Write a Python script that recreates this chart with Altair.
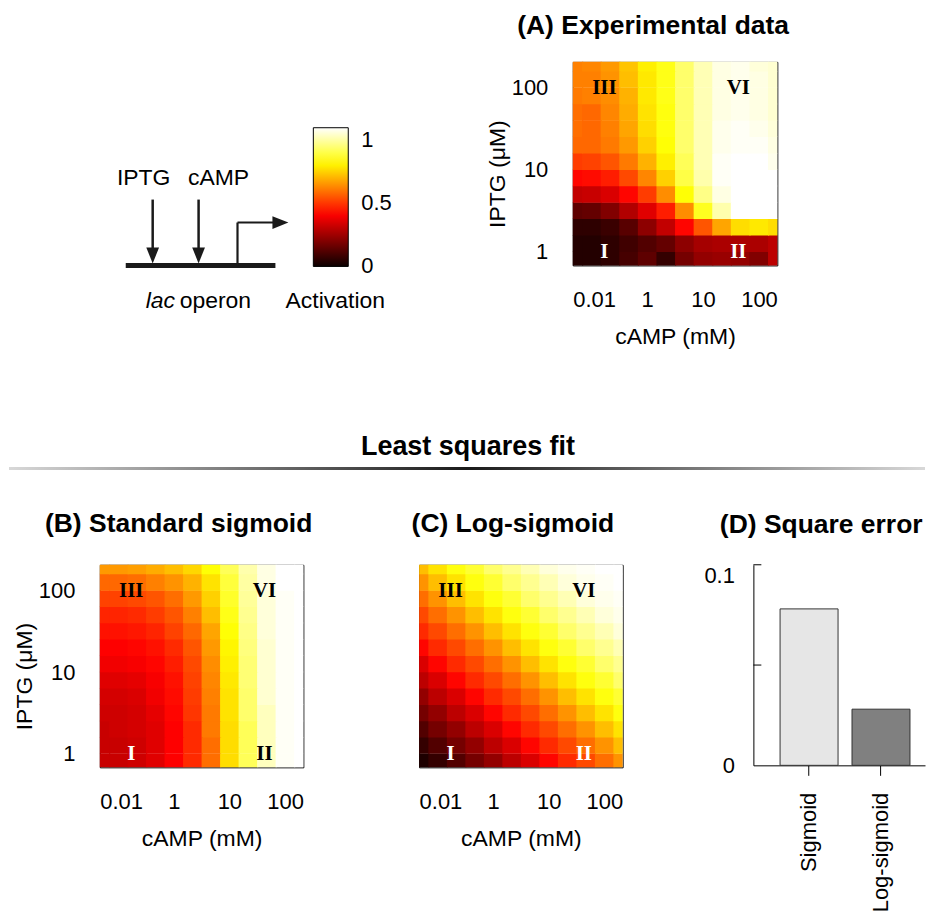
import altair as alt
import pandas as pd

# ---------------- data ----------------
camp_index = list(range(12))                 # cAMP grid columns (index axis)
camp_tick_index = [0, 4, 7, 11]
camp_tick_label = ["0.01", "1", "10", "100"]
iptg_log_rows = [-0.1, 0.1, 0.3, 0.5, 0.7, 0.9, 1.1, 1.3, 1.5, 1.7, 1.9, 2.1, 2.3]
iptg_ticks = [1, 10, 100]
iptg_domain = [0.684, 207.5]
colorbar_ticks = [0.001, 0.5, 1]

# activation grids, rows bottom (low IPTG) -> top, columns low -> high cAMP
exp_data = [
    [0.04, 0.04, 0.06, 0.10, 0.14, 0.07, 0.18, 0.23, 0.24, 0.23, 0.20, 0.30],
    [0.04, 0.04, 0.06, 0.09, 0.12, 0.15, 0.22, 0.26, 0.27, 0.27, 0.27, 0.30],
    [0.06, 0.06, 0.08, 0.13, 0.22, 0.31, 0.42, 0.55, 0.68, 0.77, 0.79, 0.77],
    [0.14, 0.15, 0.20, 0.28, 0.36, 0.46, 0.64, 0.86, 1.01, 1.10, 1.10, 1.10],
    [0.31, 0.32, 0.35, 0.42, 0.51, 0.64, 0.83, 0.97, 1.07, 1.10, 1.10, 1.10],
    [0.42, 0.43, 0.46, 0.53, 0.63, 0.75, 0.90, 1.01, 1.09, 1.10, 1.10, 1.10],
    [0.51, 0.52, 0.55, 0.61, 0.70, 0.80, 0.92, 1.02, 1.09, 1.10, 1.10, 1.08],
    [0.58, 0.58, 0.61, 0.66, 0.75, 0.83, 0.94, 1.02, 1.08, 1.09, 1.09, 1.07],
    [0.59, 0.58, 0.62, 0.68, 0.77, 0.84, 0.94, 1.02, 1.08, 1.09, 1.08, 1.06],
    [0.59, 0.58, 0.63, 0.69, 0.78, 0.84, 0.94, 1.02, 1.07, 1.08, 1.07, 1.05],
    [0.61, 0.62, 0.64, 0.70, 0.79, 0.85, 0.94, 1.02, 1.07, 1.08, 1.07, 1.05],
    [0.62, 0.62, 0.65, 0.72, 0.79, 0.85, 0.94, 1.02, 1.07, 1.08, 1.07, 1.05],
    [0.62, 0.63, 0.66, 0.73, 0.80, 0.85, 0.94, 1.02, 1.07, 1.08, 1.06, 1.05],
]
sigmoid_data = [
    [0.32, 0.32, 0.33, 0.36, 0.41, 0.48, 0.59, 0.77, 0.92, 1.03, 1.09, 1.10],
    [0.32, 0.32, 0.33, 0.36, 0.41, 0.48, 0.59, 0.77, 0.92, 1.03, 1.09, 1.10],
    [0.32, 0.33, 0.34, 0.36, 0.41, 0.48, 0.61, 0.77, 0.92, 1.03, 1.09, 1.10],
    [0.33, 0.33, 0.34, 0.37, 0.42, 0.50, 0.61, 0.78, 0.94, 1.03, 1.09, 1.10],
    [0.34, 0.34, 0.35, 0.39, 0.43, 0.51, 0.62, 0.78, 0.94, 1.05, 1.09, 1.10],
    [0.36, 0.36, 0.37, 0.40, 0.44, 0.52, 0.63, 0.79, 0.95, 1.05, 1.09, 1.10],
    [0.39, 0.39, 0.40, 0.42, 0.46, 0.53, 0.64, 0.80, 0.95, 1.05, 1.09, 1.10],
    [0.41, 0.41, 0.42, 0.44, 0.48, 0.55, 0.66, 0.81, 0.96, 1.05, 1.09, 1.10],
    [0.44, 0.44, 0.45, 0.47, 0.52, 0.58, 0.68, 0.83, 0.97, 1.06, 1.09, 1.10],
    [0.47, 0.47, 0.48, 0.51, 0.55, 0.62, 0.72, 0.85, 0.98, 1.06, 1.09, 1.10],
    [0.52, 0.52, 0.53, 0.55, 0.59, 0.66, 0.75, 0.87, 0.99, 1.06, 1.09, 1.10],
    [0.58, 0.58, 0.59, 0.62, 0.65, 0.70, 0.78, 0.89, 1.00, 1.07, 1.10, 1.10],
    [0.66, 0.66, 0.67, 0.69, 0.72, 0.76, 0.83, 0.92, 1.01, 1.07, 1.10, 1.10],
]
logsig_data = [
    [0.03, 0.07, 0.12, 0.18, 0.23, 0.30, 0.35, 0.42, 0.48, 0.53, 0.59, 0.65],
    [0.07, 0.12, 0.18, 0.23, 0.30, 0.35, 0.42, 0.48, 0.53, 0.59, 0.65, 0.72],
    [0.12, 0.18, 0.23, 0.30, 0.35, 0.42, 0.48, 0.53, 0.59, 0.65, 0.72, 0.78],
    [0.18, 0.23, 0.30, 0.35, 0.42, 0.48, 0.53, 0.59, 0.65, 0.72, 0.78, 0.84],
    [0.23, 0.30, 0.35, 0.42, 0.48, 0.53, 0.59, 0.65, 0.72, 0.78, 0.84, 0.88],
    [0.30, 0.35, 0.42, 0.48, 0.53, 0.59, 0.65, 0.72, 0.78, 0.84, 0.88, 0.94],
    [0.35, 0.42, 0.48, 0.53, 0.59, 0.65, 0.72, 0.78, 0.84, 0.88, 0.94, 0.98],
    [0.42, 0.48, 0.53, 0.59, 0.65, 0.72, 0.78, 0.84, 0.88, 0.94, 0.98, 1.02],
    [0.48, 0.53, 0.59, 0.65, 0.72, 0.78, 0.84, 0.88, 0.94, 0.98, 1.02, 1.06],
    [0.53, 0.59, 0.65, 0.72, 0.78, 0.84, 0.88, 0.94, 0.98, 1.02, 1.06, 1.08],
    [0.59, 0.65, 0.72, 0.78, 0.84, 0.88, 0.94, 0.98, 1.02, 1.06, 1.08, 1.09],
    [0.65, 0.72, 0.78, 0.84, 0.88, 0.94, 0.98, 1.02, 1.06, 1.08, 1.09, 1.10],
    [0.72, 0.78, 0.84, 0.88, 0.94, 0.98, 1.02, 1.06, 1.08, 1.09, 1.10, 1.10],
]

numerals = ["III", "VI", "I", "II"]
numeral_camp = [1.7, 8.9, 1.7, 8.9]
numeral_iptg = [100, 100, 1, 1]
numeral_color_a = ["black", "black", "white", "white"]
numeral_color_b = ["black", "black", "white", "black"]
numeral_color_c = ["black", "black", "white", "white"]

models = ["Sigmoid", "Log-sigmoid"]
square_error = [0.078, 0.028]
bar_fill = ["#e6e6e6", "#808080"]
error_ticks = [0.05, 0.1]

# schematic (diagram units, 1 unit = 1 px)
seg_x1 = [53, 99, 26, 138, 138]
seg_y1 = [66, 66, 0, 0, 43]
seg_x2 = [53, 99, 176, 138, 176]
seg_y2 = [16, 16, 0, 43, 43]
seg_w = [2.5, 2.5, 5, 2.2, 2.2]
head_x = [53, 99, 181]
head_y = [10, 10, 43]
head_shape = ["M -0.8 -1 L 0.8 -1 L 0 1 Z", "M -0.8 -1 L 0.8 -1 L 0 1 Z", "M -1 -0.8 L 1 0 L -1 0.8 Z"]
label_text = ["IPTG", "cAMP", "operon", "Activation"]
label_x = [44, 119, 80, 236]
label_y = [88, 88, -36, -36]
label_align = ["center", "center", "left", "center"]

FONT = "Liberation Sans"
color_scale = alt.Scale(domain=[0, 0.4125, 0.825, 1.1],
                        range=["#0b0000", "#ff0000", "#ffff00", "#ffffff"],
                        interpolate="rgb")
color_legend = alt.Legend(orient="none", legendX=214, legendY=66, direction="vertical",
                          gradientLength=139, gradientThickness=35, values=colorbar_ticks,
                          format=".1~f", labelFontSize=22, labelOffset=13, labelFont=FONT,
                          labelColor="black", labelBaseline="middle",
                          gradientStrokeColor="black", gradientStrokeWidth=1,
                          padding=0, title=None)

camp_label_expr = " : ".join(
    f"datum.value == {i} ? '{t}'" for i, t in zip(camp_tick_index, camp_tick_label)) + " : ''"


def grid_df(rows):
    recs = []
    for L, row in zip(iptg_log_rows, rows):
        for i, v in zip(camp_index, row):
            recs.append({"ci": i, "L": L, "v": v})
    return pd.DataFrame(recs)


def heat_panel(rows, title, title_dx, title_offset, ncolors, show_y, width, height, anchor_left=False):
    xs = alt.Scale(domain=[0, 11], nice=False, zero=False)
    ys = alt.Scale(type="log", domain=iptg_domain, nice=False)
    xaxis = alt.Axis(values=camp_tick_index, labelExpr=camp_label_expr, ticks=False, tickSize=0,
                     domain=False, grid=False, labelPadding=24, titlePadding=15,
                     labelFontSize=22, titleFontSize=23)
    if show_y:
        yaxis = alt.Axis(values=iptg_ticks, format="d", ticks=False, tickSize=0, domain=False,
                         grid=False, labelPadding=25, titlePadding=2, titleY=height / 2 + 10,
                         labelFontSize=22, titleFontSize=23)
    else:
        yaxis = None
    heat = alt.Chart(grid_df(rows)).transform_calculate(
        x0="datum.ci - 0.5", x1="datum.ci + 0.56",
        y0="pow(10, datum.L - 0.1)", y1="pow(10, datum.L + 0.106)"
    ).mark_rect(clip=True).encode(
        x=alt.X("x0:Q", scale=xs, axis=xaxis, title="cAMP (mM)"),
        x2="x1:Q",
        y=alt.Y("y0:Q", scale=ys, axis=yaxis, title="IPTG (μM)"),
        y2="y1:Q",
        color=alt.Color("v:Q", scale=color_scale, legend=color_legend),
    )
    ndf = pd.DataFrame({"t": numerals, "nx": numeral_camp, "ny": numeral_iptg, "nc": ncolors})
    text = alt.Chart(ndf).mark_text(font="Liberation Serif", fontWeight="bold", fontSize=21,
                                    baseline="middle", align="center").encode(
        x=alt.X("nx:Q", scale=xs, axis=xaxis, title="cAMP (mM)"),
        y=alt.Y("ny:Q", scale=ys, axis=yaxis, title="IPTG (μM)"),
        text="t:N",
        fill=alt.Fill("nc:N", scale=None),
    )
    layers = [heat, text]
    if anchor_left:
        # invisible anchor so that the layout's left bound sits 91 px left of this plot
        layers.append(alt.Chart(pd.DataFrame({"a": [0]})).mark_rule(strokeOpacity=0).encode(
            x=alt.value(-91), y=alt.value(0), y2=alt.value(10)))
    return alt.layer(*layers).properties(
        width=width, height=height,
        title=alt.TitleParams(title, dx=title_dx, offset=title_offset, anchor="middle"),
        view=alt.ViewBackground(stroke="black", strokeWidth=1),
    )


def spacer(w, h):
    return alt.Chart(pd.DataFrame({"a": [0]})).mark_point(opacity=0).properties(
        width=w, height=h, view=alt.ViewBackground(stroke="transparent"))


# ---------------- schematic panel ----------------
dx = alt.Scale(domain=[0, 301], nice=False, zero=False)
dy = alt.Scale(domain=[0, 204], nice=False, zero=False)
seg_df = pd.DataFrame({"x1": seg_x1, "y1": seg_y1, "x2": seg_x2, "y2": seg_y2, "w": seg_w})
segs = alt.Chart(seg_df).mark_rule(color="#1a1a1a", strokeCap="butt").encode(
    x=alt.X("x1:Q", scale=dx, axis=None), x2="x2:Q",
    y=alt.Y("y1:Q", scale=dy, axis=None), y2="y2:Q",
    strokeWidth=alt.StrokeWidth("w:Q", scale=None),
)
head_df = pd.DataFrame({"x": head_x, "y": head_y, "s": head_shape})
heads = alt.Chart(head_df).mark_point(filled=True, color="#1a1a1a", opacity=1, size=256).encode(
    x=alt.X("x:Q", scale=dx, axis=None), y=alt.Y("y:Q", scale=dy, axis=None),
    shape=alt.Shape("s:N", scale=None),
)
lab_df = pd.DataFrame({"t": label_text, "x": label_x, "y": label_y, "a": label_align})
labs_c = alt.Chart(lab_df[lab_df.a == "center"]).mark_text(
    font=FONT, fontSize=23, align="center", baseline="middle", color="black").encode(
    x=alt.X("x:Q", scale=dx, axis=None), y=alt.Y("y:Q", scale=dy, axis=None), text="t:N")
labs_l = alt.Chart(lab_df[lab_df.a == "left"]).mark_text(
    font=FONT, fontSize=23, align="left", baseline="middle", color="black").encode(
    x=alt.X("x:Q", scale=dx, axis=None), y=alt.Y("y:Q", scale=dy, axis=None), text="t:N")
lac = alt.Chart(pd.DataFrame({"t": ["lac"], "x": [46], "y": [-36]})).mark_text(
    font=FONT, fontSize=23, fontStyle="italic", align="left", baseline="middle", color="black").encode(
    x=alt.X("x:Q", scale=dx, axis=None), y=alt.Y("y:Q", scale=dy, axis=None), text="t:N")
diagram = alt.layer(segs, heads, labs_c, labs_l, lac).properties(
    width=301, height=204, view=alt.ViewBackground(stroke="transparent"))

# ---------------- panels ----------------
panel_a = heat_panel(exp_data, "(A) Experimental data", -22, 22, numeral_color_a, True, 205, 204)
panel_b = heat_panel(sigmoid_data, "(B) Standard sigmoid", -23, 27, numeral_color_b, True, 204, 203,
                     anchor_left=True)
panel_c = heat_panel(logsig_data, "(C) Log-sigmoid", -8, 27, numeral_color_c, False, 204, 203)

d_df = pd.DataFrame({"model": models, "err": square_error, "fill": bar_fill})
bars = alt.Chart(d_df).mark_bar(stroke="#333333", strokeWidth=1).encode(
    x=alt.X("model:N", sort=models,
            scale=alt.Scale(paddingInner=0.194, paddingOuter=0.29, align=0.64),
            axis=alt.Axis(title=None, labelAngle=270, labelAlign="right", labelBaseline="middle",
                          tickSize=10, tickColor="black", domainColor="black", labelPadding=17,
                          labelFontSize=22)),
    y=alt.Y("err:Q", scale=alt.Scale(domain=[0, 0.1], nice=False, zero=True),
            axis=alt.Axis(values=[0, 0.1], format="~g", ticks=False, title=None, grid=False,
                          domainColor="black", labelPadding=19, labelFontSize=22,
                          labelOffset={"condition": {"test": "datum.value > 0.09", "value": 11},
                                       "value": 0})),
    fill=alt.Fill("fill:N", scale=None),
)
tick_df = pd.DataFrame({"err": error_ticks})
inner_ticks = alt.Chart(tick_df).mark_rule(color="black", strokeWidth=1).encode(
    y=alt.Y("err:Q"), x=alt.value(0), x2=alt.value(8))
panel_d = alt.layer(bars, inner_ticks).properties(
    width=172, height=201,
    title=alt.TitleParams("(D) Square error", dx=-18, offset=26, anchor="middle"),
    view=alt.ViewBackground(stroke="transparent"),
)

# ---------------- divider ----------------
grad = alt.LinearGradient(gradient="linear", x1=0, x2=1, y1=0, y2=0, stops=[
    alt.GradientStop(color="#d8d8d8", offset=0),
    alt.GradientStop(color="#1a1a1a", offset=0.5),
    alt.GradientStop(color="#d8d8d8", offset=1)])
div_text = alt.Chart(pd.DataFrame({"t": ["Least squares fit"]})).mark_text(
    font=FONT, fontSize=27, fontWeight="bold", align="center", baseline="middle", color="black"
).encode(text="t:N", x=alt.value(369), y=alt.value(97))
div_line = alt.Chart(pd.DataFrame({"a": [0]})).mark_rect(fill=grad).encode(
    x=alt.value(-91), x2=alt.value(827), y=alt.value(117), y2=alt.value(120))
divider = alt.layer(div_line, div_text).properties(
    width=827, height=160, view=alt.ViewBackground(stroke="transparent"))

row1 = alt.hconcat(diagram, panel_a, spacing=173, bounds="flush")
row3 = alt.hconcat(panel_b, spacer(116, 203), panel_c, spacer(131, 203), panel_d,
                   spacing=0, bounds="flush")

chart = alt.vconcat(row1, divider, row3, spacing=0).properties(
    padding={"left": 0, "top": 4, "right": 0, "bottom": 0}
).configure(font=FONT).configure_axis(
    labelColor="black", titleColor="black", labelFont=FONT, titleFont=FONT,
    titleFontWeight="normal"
).configure_title(font=FONT, fontSize=26.5, fontWeight="bold", color="black")

chart.save("out.html", embed_options={"renderer": "svg", "actions": False})
